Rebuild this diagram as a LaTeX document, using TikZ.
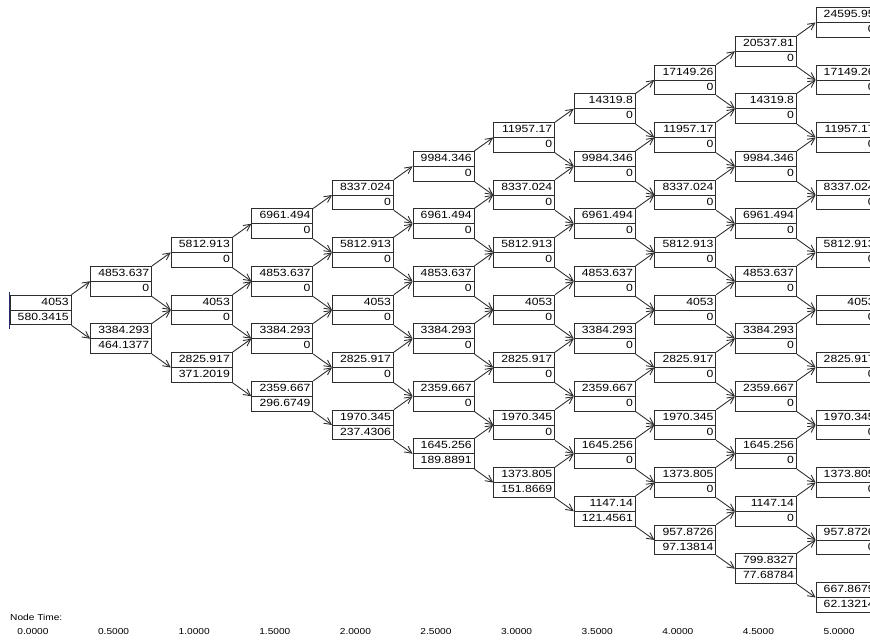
\documentclass[tikz,border=0pt]{standalone}
\usepackage{fontspec}
\setmainfont{Liberation Sans}
\newfontfamily\treefont[FakeStretch=1.17]{Liberation Sans}
\usepackage{tikz}
\usetikzlibrary{arrows.meta, shapes.multipart}
\definecolor{LineGray}{RGB}{45,45,45}
\definecolor{BarBlue}{RGB}{35,45,105}
\newcommand{\cellrule}{\rule[-2.75pt]{0pt}{9.95pt}}
\newcommand{\vals}[2]{\cellrule#1\nodepart{two}\cellrule#2}
\begin{document}
\begin{tikzpicture}[x=2.418cm, y=0.8625cm, cell/.style={rectangle split, rectangle split parts=2, draw=LineGray, line width=0.75pt, inner xsep=2pt, inner ysep=1pt, text width=48pt, align=right, font=\treefont\fontsize{8.9}{10}\selectfont}, ar/.style={-{Straight Barb[length=2.1mm, width=2.1mm]}, LineGray, line width=0.75pt}, tlab/.style={font=\treefont\fontsize{7.4}{8}\selectfont, inner sep=0pt}]
\useasboundingbox (-1.215cm,9.3cm) rectangle (24.885cm,-9.99cm);
% tree nodes, one column per time step
\node[cell] (n0-0) at (0,0) {\vals{4053}{580.3415}};
\node[cell] (n1-0) at (1,1) {\vals{4853.637}{0}};
\node[cell] (n1-1) at (1,-1) {\vals{3384.293}{464.1377}};
\node[cell] (n2-0) at (2,2) {\vals{5812.913}{0}};
\node[cell] (n2-1) at (2,0) {\vals{4053}{0}};
\node[cell] (n2-2) at (2,-2) {\vals{2825.917}{371.2019}};
\node[cell] (n3-0) at (3,3) {\vals{6961.494}{0}};
\node[cell] (n3-1) at (3,1) {\vals{4853.637}{0}};
\node[cell] (n3-2) at (3,-1) {\vals{3384.293}{0}};
\node[cell] (n3-3) at (3,-3) {\vals{2359.667}{296.6749}};
\node[cell] (n4-0) at (4,4) {\vals{8337.024}{0}};
\node[cell] (n4-1) at (4,2) {\vals{5812.913}{0}};
\node[cell] (n4-2) at (4,0) {\vals{4053}{0}};
\node[cell] (n4-3) at (4,-2) {\vals{2825.917}{0}};
\node[cell] (n4-4) at (4,-4) {\vals{1970.345}{237.4306}};
\node[cell] (n5-0) at (5,5) {\vals{9984.346}{0}};
\node[cell] (n5-1) at (5,3) {\vals{6961.494}{0}};
\node[cell] (n5-2) at (5,1) {\vals{4853.637}{0}};
\node[cell] (n5-3) at (5,-1) {\vals{3384.293}{0}};
\node[cell] (n5-4) at (5,-3) {\vals{2359.667}{0}};
\node[cell] (n5-5) at (5,-5) {\vals{1645.256}{189.8891}};
\node[cell] (n6-0) at (6,6) {\vals{11957.17}{0}};
\node[cell] (n6-1) at (6,4) {\vals{8337.024}{0}};
\node[cell] (n6-2) at (6,2) {\vals{5812.913}{0}};
\node[cell] (n6-3) at (6,0) {\vals{4053}{0}};
\node[cell] (n6-4) at (6,-2) {\vals{2825.917}{0}};
\node[cell] (n6-5) at (6,-4) {\vals{1970.345}{0}};
\node[cell] (n6-6) at (6,-6) {\vals{1373.805}{151.8669}};
\node[cell] (n7-0) at (7,7) {\vals{14319.8}{0}};
\node[cell] (n7-1) at (7,5) {\vals{9984.346}{0}};
\node[cell] (n7-2) at (7,3) {\vals{6961.494}{0}};
\node[cell] (n7-3) at (7,1) {\vals{4853.637}{0}};
\node[cell] (n7-4) at (7,-1) {\vals{3384.293}{0}};
\node[cell] (n7-5) at (7,-3) {\vals{2359.667}{0}};
\node[cell] (n7-6) at (7,-5) {\vals{1645.256}{0}};
\node[cell] (n7-7) at (7,-7) {\vals{1147.14}{121.4561}};
\node[cell] (n8-0) at (8,8) {\vals{17149.26}{0}};
\node[cell] (n8-1) at (8,6) {\vals{11957.17}{0}};
\node[cell] (n8-2) at (8,4) {\vals{8337.024}{0}};
\node[cell] (n8-3) at (8,2) {\vals{5812.913}{0}};
\node[cell] (n8-4) at (8,0) {\vals{4053}{0}};
\node[cell] (n8-5) at (8,-2) {\vals{2825.917}{0}};
\node[cell] (n8-6) at (8,-4) {\vals{1970.345}{0}};
\node[cell] (n8-7) at (8,-6) {\vals{1373.805}{0}};
\node[cell] (n8-8) at (8,-8) {\vals{957.8726}{97.13814}};
\node[cell] (n9-0) at (9,9) {\vals{20537.81}{0}};
\node[cell] (n9-1) at (9,7) {\vals{14319.8}{0}};
\node[cell] (n9-2) at (9,5) {\vals{9984.346}{0}};
\node[cell] (n9-3) at (9,3) {\vals{6961.494}{0}};
\node[cell] (n9-4) at (9,1) {\vals{4853.637}{0}};
\node[cell] (n9-5) at (9,-1) {\vals{3384.293}{0}};
\node[cell] (n9-6) at (9,-3) {\vals{2359.667}{0}};
\node[cell] (n9-7) at (9,-5) {\vals{1645.256}{0}};
\node[cell] (n9-8) at (9,-7) {\vals{1147.14}{0}};
\node[cell] (n9-9) at (9,-9) {\vals{799.8327}{77.68784}};
\node[cell] (n10-0) at (10,10) {\vals{24595.95}{0}};
\node[cell] (n10-1) at (10,8) {\vals{17149.26}{0}};
\node[cell] (n10-2) at (10,6) {\vals{11957.17}{0}};
\node[cell] (n10-3) at (10,4) {\vals{8337.024}{0}};
\node[cell] (n10-4) at (10,2) {\vals{5812.913}{0}};
\node[cell] (n10-5) at (10,0) {\vals{4053}{0}};
\node[cell] (n10-6) at (10,-2) {\vals{2825.917}{0}};
\node[cell] (n10-7) at (10,-4) {\vals{1970.345}{0}};
\node[cell] (n10-8) at (10,-6) {\vals{1373.805}{0}};
\node[cell] (n10-9) at (10,-8) {\vals{957.8726}{0}};
\node[cell] (n10-10) at (10,-10) {\vals{667.8679}{62.13214}};
\draw[line width=1.1pt, BarBlue] ([yshift=2pt]n0-0.north west) -- ([yshift=-3pt]n0-0.south west);
% up and down moves
\draw[ar] (n0-0.north east) -- (n1-0.west); \draw[ar] (n0-0.south east) -- (n1-1.west);
\draw[ar] (n1-0.north east) -- (n2-0.west); \draw[ar] (n1-0.south east) -- (n2-1.west); \draw[ar] (n1-1.north east) -- (n2-1.west); \draw[ar] (n1-1.south east) -- (n2-2.west);
\draw[ar] (n2-0.north east) -- (n3-0.west); \draw[ar] (n2-0.south east) -- (n3-1.west); \draw[ar] (n2-1.north east) -- (n3-1.west); \draw[ar] (n2-1.south east) -- (n3-2.west); \draw[ar] (n2-2.north east) -- (n3-2.west); \draw[ar] (n2-2.south east) -- (n3-3.west);
\draw[ar] (n3-0.north east) -- (n4-0.west); \draw[ar] (n3-0.south east) -- (n4-1.west); \draw[ar] (n3-1.north east) -- (n4-1.west); \draw[ar] (n3-1.south east) -- (n4-2.west); \draw[ar] (n3-2.north east) -- (n4-2.west); \draw[ar] (n3-2.south east) -- (n4-3.west); \draw[ar] (n3-3.north east) -- (n4-3.west); \draw[ar] (n3-3.south east) -- (n4-4.west);
\draw[ar] (n4-0.north east) -- (n5-0.west); \draw[ar] (n4-0.south east) -- (n5-1.west); \draw[ar] (n4-1.north east) -- (n5-1.west); \draw[ar] (n4-1.south east) -- (n5-2.west); \draw[ar] (n4-2.north east) -- (n5-2.west); \draw[ar] (n4-2.south east) -- (n5-3.west); \draw[ar] (n4-3.north east) -- (n5-3.west); \draw[ar] (n4-3.south east) -- (n5-4.west); \draw[ar] (n4-4.north east) -- (n5-4.west); \draw[ar] (n4-4.south east) -- (n5-5.west);
\draw[ar] (n5-0.north east) -- (n6-0.west); \draw[ar] (n5-0.south east) -- (n6-1.west); \draw[ar] (n5-1.north east) -- (n6-1.west); \draw[ar] (n5-1.south east) -- (n6-2.west); \draw[ar] (n5-2.north east) -- (n6-2.west); \draw[ar] (n5-2.south east) -- (n6-3.west); \draw[ar] (n5-3.north east) -- (n6-3.west); \draw[ar] (n5-3.south east) -- (n6-4.west); \draw[ar] (n5-4.north east) -- (n6-4.west); \draw[ar] (n5-4.south east) -- (n6-5.west); \draw[ar] (n5-5.north east) -- (n6-5.west); \draw[ar] (n5-5.south east) -- (n6-6.west);
\draw[ar] (n6-0.north east) -- (n7-0.west); \draw[ar] (n6-0.south east) -- (n7-1.west); \draw[ar] (n6-1.north east) -- (n7-1.west); \draw[ar] (n6-1.south east) -- (n7-2.west); \draw[ar] (n6-2.north east) -- (n7-2.west); \draw[ar] (n6-2.south east) -- (n7-3.west); \draw[ar] (n6-3.north east) -- (n7-3.west); \draw[ar] (n6-3.south east) -- (n7-4.west); \draw[ar] (n6-4.north east) -- (n7-4.west); \draw[ar] (n6-4.south east) -- (n7-5.west); \draw[ar] (n6-5.north east) -- (n7-5.west); \draw[ar] (n6-5.south east) -- (n7-6.west); \draw[ar] (n6-6.north east) -- (n7-6.west); \draw[ar] (n6-6.south east) -- (n7-7.west);
\draw[ar] (n7-0.north east) -- (n8-0.west); \draw[ar] (n7-0.south east) -- (n8-1.west); \draw[ar] (n7-1.north east) -- (n8-1.west); \draw[ar] (n7-1.south east) -- (n8-2.west); \draw[ar] (n7-2.north east) -- (n8-2.west); \draw[ar] (n7-2.south east) -- (n8-3.west); \draw[ar] (n7-3.north east) -- (n8-3.west); \draw[ar] (n7-3.south east) -- (n8-4.west); \draw[ar] (n7-4.north east) -- (n8-4.west); \draw[ar] (n7-4.south east) -- (n8-5.west); \draw[ar] (n7-5.north east) -- (n8-5.west); \draw[ar] (n7-5.south east) -- (n8-6.west); \draw[ar] (n7-6.north east) -- (n8-6.west); \draw[ar] (n7-6.south east) -- (n8-7.west); \draw[ar] (n7-7.north east) -- (n8-7.west); \draw[ar] (n7-7.south east) -- (n8-8.west);
\draw[ar] (n8-0.north east) -- (n9-0.west); \draw[ar] (n8-0.south east) -- (n9-1.west); \draw[ar] (n8-1.north east) -- (n9-1.west); \draw[ar] (n8-1.south east) -- (n9-2.west); \draw[ar] (n8-2.north east) -- (n9-2.west); \draw[ar] (n8-2.south east) -- (n9-3.west); \draw[ar] (n8-3.north east) -- (n9-3.west); \draw[ar] (n8-3.south east) -- (n9-4.west); \draw[ar] (n8-4.north east) -- (n9-4.west); \draw[ar] (n8-4.south east) -- (n9-5.west); \draw[ar] (n8-5.north east) -- (n9-5.west); \draw[ar] (n8-5.south east) -- (n9-6.west); \draw[ar] (n8-6.north east) -- (n9-6.west); \draw[ar] (n8-6.south east) -- (n9-7.west); \draw[ar] (n8-7.north east) -- (n9-7.west); \draw[ar] (n8-7.south east) -- (n9-8.west); \draw[ar] (n8-8.north east) -- (n9-8.west); \draw[ar] (n8-8.south east) -- (n9-9.west);
\draw[ar] (n9-0.north east) -- (n10-0.west); \draw[ar] (n9-0.south east) -- (n10-1.west); \draw[ar] (n9-1.north east) -- (n10-1.west); \draw[ar] (n9-1.south east) -- (n10-2.west); \draw[ar] (n9-2.north east) -- (n10-2.west); \draw[ar] (n9-2.south east) -- (n10-3.west); \draw[ar] (n9-3.north east) -- (n10-3.west); \draw[ar] (n9-3.south east) -- (n10-4.west); \draw[ar] (n9-4.north east) -- (n10-4.west); \draw[ar] (n9-4.south east) -- (n10-5.west); \draw[ar] (n9-5.north east) -- (n10-5.west); \draw[ar] (n9-5.south east) -- (n10-6.west); \draw[ar] (n9-6.north east) -- (n10-6.west); \draw[ar] (n9-6.south east) -- (n10-7.west); \draw[ar] (n9-7.north east) -- (n10-7.west); \draw[ar] (n9-7.south east) -- (n10-8.west); \draw[ar] (n9-8.north east) -- (n10-8.west); \draw[ar] (n9-8.south east) -- (n10-9.west); \draw[ar] (n9-9.north east) -- (n10-9.west); \draw[ar] (n9-9.south east) -- (n10-10.west);
% time axis
\node[tlab, anchor=west] (nt) at (-0.915cm,-9.22cm) {Node Time:};
\node[tlab] (t0) at ([xshift=-0.225cm]0,-11.2) {0.0000};
\node[tlab] (t1) at ([xshift=-0.225cm]1,-11.2) {0.5000};
\node[tlab] (t2) at ([xshift=-0.225cm]2,-11.2) {1.0000};
\node[tlab] (t3) at ([xshift=-0.225cm]3,-11.2) {1.5000};
\node[tlab] (t4) at ([xshift=-0.225cm]4,-11.2) {2.0000};
\node[tlab] (t5) at ([xshift=-0.225cm]5,-11.2) {2.5000};
\node[tlab] (t6) at ([xshift=-0.225cm]6,-11.2) {3.0000};
\node[tlab] (t7) at ([xshift=-0.225cm]7,-11.2) {3.5000};
\node[tlab] (t8) at ([xshift=-0.225cm]8,-11.2) {4.0000};
\node[tlab] (t9) at ([xshift=-0.225cm]9,-11.2) {4.5000};
\node[tlab] (t10) at ([xshift=-0.225cm]10,-11.2) {5.0000};
\end{tikzpicture}
\end{document}
